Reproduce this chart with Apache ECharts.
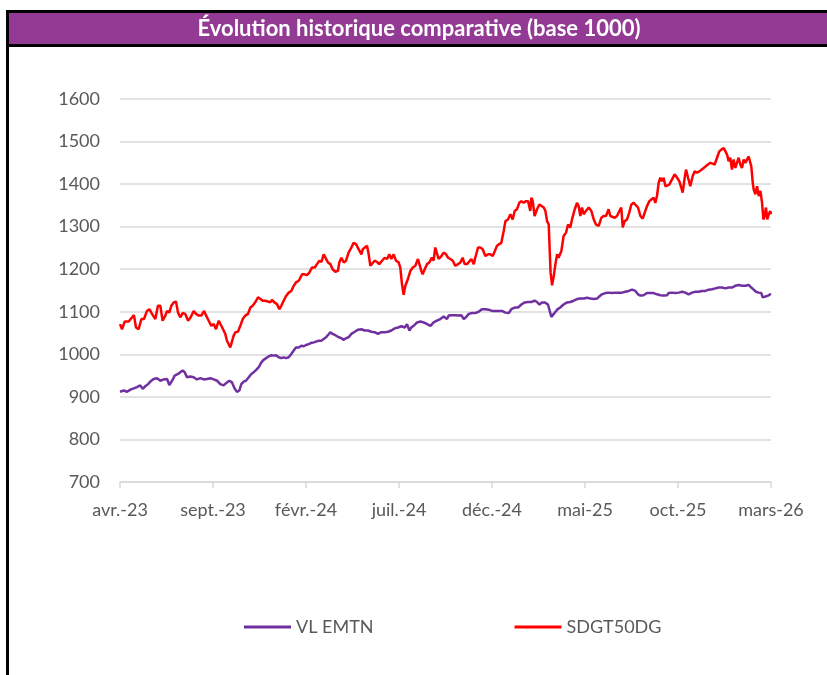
<!DOCTYPE html>
<html><head><meta charset="utf-8">
<script src="https://cdn.jsdelivr.net/npm/echarts@6/dist/echarts.min.js"></script>
<style>html,body{margin:0;padding:0;background:#fff}#c{width:827px;height:675px}</style>
</head><body><div id="c"></div>
<script>
const titleText = 'Évolution historique comparative (base 1000)';
const tickLabels = ['avr.-23','sept.-23','févr.-24','juil.-24','déc.-24','mai-25','oct.-25','mars-26'];
const seriesNames = ['VL EMTN','SDGT50DG'];
// [months since avr.-23, value]
const vlEmtn = [
[0.00,912],[0.20,915],[0.38,912],[0.56,917],[0.74,920],[0.91,923],[1.09,927],[1.22,919],[1.36,925],[1.51,930],[1.63,936],[1.81,942],[1.99,944],[2.17,938],[2.35,941],[2.53,942],[2.65,928],[2.80,938],[2.94,950],[3.12,954],[3.24,958],[3.37,962],[3.48,958],[3.60,946],[3.78,948],[3.96,946],[4.14,941],[4.32,944],[4.50,941],[4.68,942],[4.86,944],[5.04,941],[5.22,938],[5.39,930],[5.57,927],[5.75,934],
[5.88,938],[6.02,934],[6.17,919],[6.29,912],[6.42,915],[6.52,930],[6.65,936],[6.77,938],[6.92,946],[7.06,954],[7.19,958],[7.31,963],[7.46,970],[7.60,981],[7.72,987],[7.85,991],[7.99,995],[8.14,998],[8.26,997],[8.39,998],[8.53,993],[8.67,991],[8.80,993],[8.93,991],[9.07,993],[9.21,1001],[9.34,1009],[9.46,1016],[9.61,1016],[9.75,1020],[9.88,1019],[10.00,1022],[10.14,1024],[10.29,1027],[10.41,1028],[10.54,1030],[10.68,1032],[10.82,1032],[10.95,1036],[11.08,1040],[11.18,1044],[11.31,1052],[11.43,1048],[11.58,1045],[11.67,1044],
[11.76,1040],[11.90,1038],[12.03,1034],[12.15,1038],[12.29,1040],[12.44,1048],[12.62,1053],[12.80,1058],[12.98,1059],[13.15,1056],[13.33,1056],[13.51,1053],[13.69,1052],[13.87,1048],[14.05,1052],[14.23,1052],[14.41,1053],[14.59,1056],[14.77,1061],[14.95,1063],[15.13,1066],[15.31,1063],[15.43,1071],[15.56,1056],[15.66,1063],[15.79,1067],[15.97,1075],[16.15,1077],[16.33,1075],[16.51,1071],[16.69,1067],[16.86,1075],[17.04,1079],[17.22,1083],[17.40,1089],[17.58,1083],
[17.67,1091],[17.85,1092],[18.03,1092],[18.21,1091],[18.35,1092],[18.48,1083],[18.60,1087],[18.75,1095],[18.93,1097],[19.10,1097],[19.28,1100],[19.46,1106],[19.64,1106],[19.82,1105],[20.00,1102],[20.18,1102],[20.36,1102],[20.54,1102],[20.72,1098],[20.90,1097],[21.04,1106],[21.22,1110],[21.40,1110],[21.58,1117],[21.76,1122],[21.94,1123],[22.12,1123],[22.29,1126],[22.42,1123],[22.55,1117],[22.69,1122],[22.83,1122],[23.01,1117],[23.08,1106],[23.19,1088],[23.32,1095],[23.50,1105],
[23.67,1110],[23.85,1117],[24.03,1122],[24.21,1123],[24.39,1126],[24.57,1130],[24.75,1131],[24.93,1131],[25.11,1133],[25.29,1131],[25.47,1130],[25.65,1131],[25.77,1136],[25.91,1141],[26.09,1144],[26.27,1145],[26.45,1144],[26.63,1145],[26.81,1145],[26.99,1145],[27.17,1147],[27.35,1149],[27.53,1152],[27.71,1149],[27.85,1141],[27.98,1138],[28.15,1139],[28.33,1144],[28.51,1144],[28.69,1144],[28.87,1141],[29.05,1139],[29.23,1138],[29.41,1139],
[29.50,1144],[29.68,1145],[29.86,1144],[30.04,1145],[30.22,1147],[30.39,1145],[30.57,1141],[30.75,1145],[30.93,1147],[31.11,1147],[31.29,1149],[31.47,1149],[31.65,1152],[31.83,1153],[32.01,1155],[32.19,1157],[32.37,1157],[32.55,1155],[32.72,1157],[32.90,1157],[33.08,1161],[33.26,1163],[33.44,1161],[33.62,1161],[33.80,1163],[33.94,1157],[34.07,1152],[34.19,1147],[34.34,1145],[34.48,1144],[34.55,1134],[34.70,1136],[34.84,1138],[34.96,1141],[35.00,1140]
];
const sdgt50dg = [
[0.00,1071],[0.11,1059],[0.25,1077],[0.47,1077],[0.65,1087],[0.75,1092],[0.86,1063],[1.00,1059],[1.15,1083],[1.29,1083],[1.45,1102],[1.58,1106],[1.72,1095],[1.90,1083],[2.04,1114],[2.17,1114],[2.29,1079],[2.44,1091],[2.53,1102],[2.65,1098],[2.76,1114],[2.89,1122],[3.01,1124],[3.12,1098],[3.24,1087],[3.37,1097],[3.51,1095],[3.66,1079],[3.80,1087],[3.96,1102],[4.09,1095],[4.23,1091],[4.37,1091],[4.52,1102],[4.62,1092],[4.77,1079],[4.91,1067],[5.04,1071],[5.16,1059],[5.31,1079],[5.41,1075],[5.54,1059],[5.66,1048],[5.75,1032],
[5.84,1036],[5.93,1016],[6.02,1012],[6.11,1044],[6.20,1052],[6.34,1053],[6.47,1067],[6.60,1083],[6.74,1091],[6.88,1095],[7.01,1110],[7.13,1114],[7.28,1123],[7.42,1134],[7.55,1130],[7.67,1126],[7.81,1126],[7.96,1124],[8.08,1122],[8.17,1128],[8.30,1122],[8.44,1118],[8.57,1106],[8.67,1114],[8.80,1126],[8.93,1137],[9.07,1145],[9.21,1149],[9.34,1161],[9.46,1169],[9.61,1173],[9.71,1169],[9.79,1188],[9.93,1188],[10.05,1186],[10.18,1192],[10.32,1204],[10.47,1204],[10.59,1212],[10.72,1220],[10.83,1217],[10.95,1235],[11.04,1235],[11.18,1216],[11.31,1212],[11.43,1200],[11.58,1194],[11.67,1196],
[11.72,1196],[11.79,1216],[11.90,1227],[12.03,1216],[12.15,1220],[12.29,1239],[12.44,1251],[12.56,1262],[12.69,1259],[12.83,1247],[12.98,1235],[13.05,1247],[13.15,1247],[13.28,1255],[13.37,1235],[13.46,1208],[13.55,1204],[13.69,1220],[13.82,1217],[13.94,1212],[14.09,1220],[14.23,1227],[14.36,1224],[14.48,1235],[14.59,1224],[14.71,1235],[14.84,1220],[14.98,1216],[15.07,1204],[15.16,1165],[15.25,1140],[15.34,1161],[15.48,1177],[15.61,1196],[15.74,1204],[15.88,1208],[16.02,1224],[16.09,1224],[16.20,1196],[16.27,1188],[16.38,1200],[16.51,1212],[16.63,1216],[16.77,1227],[16.86,1220],[16.95,1251],[17.04,1247],[17.13,1224],[17.28,1231],[17.40,1239],[17.53,1235],
[17.64,1227],[17.76,1224],[17.89,1220],[18.03,1208],[18.17,1212],[18.30,1216],[18.42,1227],[18.53,1212],[18.66,1212],[18.75,1208],[18.89,1224],[19.02,1212],[19.10,1227],[19.25,1251],[19.37,1251],[19.50,1247],[19.64,1231],[19.79,1235],[19.91,1235],[20.04,1231],[20.14,1235],[20.27,1255],[20.39,1259],[20.50,1262],[20.63,1290],[20.72,1313],[20.86,1317],[20.99,1329],[21.11,1317],[21.22,1337],[21.34,1341],[21.47,1356],[21.58,1360],[21.70,1356],[21.83,1360],[21.94,1360],[22.01,1362],[22.06,1337],[22.12,1368],[22.19,1360],[22.29,1325],[22.42,1341],[22.55,1352],[22.65,1356],[22.78,1345],[22.87,1337],[22.96,1313],[23.05,1305],[23.10,1247],[23.15,1192],[23.23,1162],[23.32,1184],[23.41,1212],[23.50,1235],
[23.58,1227],[23.73,1243],[23.85,1278],[23.98,1286],[24.09,1305],[24.21,1298],[24.30,1317],[24.45,1341],[24.57,1356],[24.66,1348],[24.75,1325],[24.84,1345],[24.93,1329],[25.05,1337],[25.20,1345],[25.34,1337],[25.47,1317],[25.59,1305],[25.74,1302],[25.88,1321],[26.00,1325],[26.13,1325],[26.27,1341],[26.36,1325],[26.45,1329],[26.60,1321],[26.72,1325],[26.85,1337],[26.95,1345],[27.03,1298],[27.13,1313],[27.26,1317],[27.38,1333],[27.49,1352],[27.62,1356],[27.71,1360],[27.85,1345],[27.98,1325],[28.10,1319],[28.21,1333],[28.33,1348],[28.46,1360],[28.57,1364],[28.69,1368],[28.78,1356],[28.87,1372],[28.96,1403],[29.05,1415],[29.14,1407],[29.23,1415],[29.32,1395],[29.41,1395],
[29.53,1399],[29.68,1411],[29.82,1423],[29.95,1415],[30.07,1407],[30.18,1391],[30.25,1380],[30.36,1415],[30.43,1434],[30.54,1415],[30.66,1395],[30.79,1419],[30.90,1430],[31.02,1427],[31.15,1430],[31.26,1434],[31.38,1438],[31.47,1442],[31.61,1446],[31.74,1450],[31.86,1448],[31.97,1446],[32.10,1462],[32.22,1477],[32.33,1481],[32.46,1485],[32.55,1477],[32.64,1469],[32.72,1454],[32.81,1462],[32.90,1434],[32.99,1458],[33.08,1438],[33.17,1450],[33.26,1462],[33.35,1446],[33.44,1438],[33.53,1458],[33.62,1450],[33.71,1454],[33.80,1465],[33.89,1462],[33.94,1442],[34.02,1403],[34.07,1387],[34.16,1376],[34.25,1395],[34.34,1372],[34.43,1384],[34.52,1356],[34.59,1317],[34.66,1325],[34.73,1345],[34.80,1317],[34.88,1329],[34.96,1337],[35.00,1329]
];
const yMin = 700, yMax = 1600, yStep = 100;
const xMin = 0, xMax = 35, xStep = 5;

const chart = echarts.init(document.getElementById('c'), null, {renderer: 'canvas'});
const labelFont = 'Lato, "Open Sans", sans-serif';
chart.setOption({
  animation: false,
  backgroundColor: '#ffffff',
  graphic: [
    {type: 'rect', shape: {x: 8, y: 12, width: 830, height: 33}, style: {fill: '#933A94'}, z: 1},
    {type: 'line', shape: {x1: 6, y1: 11.5, x2: 830, y2: 11.5}, style: {stroke: '#000', lineWidth: 3}, z: 2},
    {type: 'line', shape: {x1: 6, y1: 45.5, x2: 830, y2: 45.5}, style: {stroke: '#000', lineWidth: 3}, z: 2},
    {type: 'line', shape: {x1: 7.5, y1: 10, x2: 7.5, y2: 680}, style: {stroke: '#000', lineWidth: 3}, z: 2},
    {type: 'text', x: 419, y: 29, style: {text: titleText, fill: '#ffffff', font: 'bold 22px Lato, "Open Sans", sans-serif', textAlign: 'center', textVerticalAlign: 'middle'}, z: 3}
  ],
  grid: {left: 120, right: 56, top: 99, bottom: 193},
  legend: {
    left: 244, top: 618, padding: 0, itemGap: 141, itemWidth: 47, itemHeight: 3, icon: 'rect',
    textStyle: {color: '#595959', fontSize: 18, fontFamily: labelFont},
    data: seriesNames
  },
  xAxis: {
    type: 'value', min: xMin, max: xMax, interval: xStep,
    axisLine: {show: true, lineStyle: {color: '#D9D9D9', width: 1.5}},
    axisTick: {show: true, length: 6, lineStyle: {color: '#D9D9D9', width: 1.5}},
    splitLine: {show: false},
    axisLabel: {color: '#595959', fontSize: 18, fontFamily: labelFont, margin: 19,
      formatter: v => tickLabels[Math.round((v - xMin) / xStep)] || ''}
  },
  yAxis: {
    type: 'value', min: yMin, max: yMax, interval: yStep,
    axisLine: {show: false}, axisTick: {show: false},
    splitLine: {lineStyle: {color: '#D9D9D9', width: 1.5}},
    axisLabel: {color: '#595959', fontSize: 18, fontFamily: labelFont, margin: 20,
      formatter: v => String(v)}
  },
  series: [
    {name: seriesNames[0], type: 'line', data: vlEmtn, showSymbol: false, symbol: 'none',
     lineStyle: {color: '#7030A0', width: 2.5}, itemStyle: {color: '#7030A0'}, z: 3},
    {name: seriesNames[1], type: 'line', data: sdgt50dg, showSymbol: false, symbol: 'none',
     lineStyle: {color: '#FF0000', width: 2.5}, itemStyle: {color: '#FF0000'}, z: 4}
  ]
});
</script></body></html>
